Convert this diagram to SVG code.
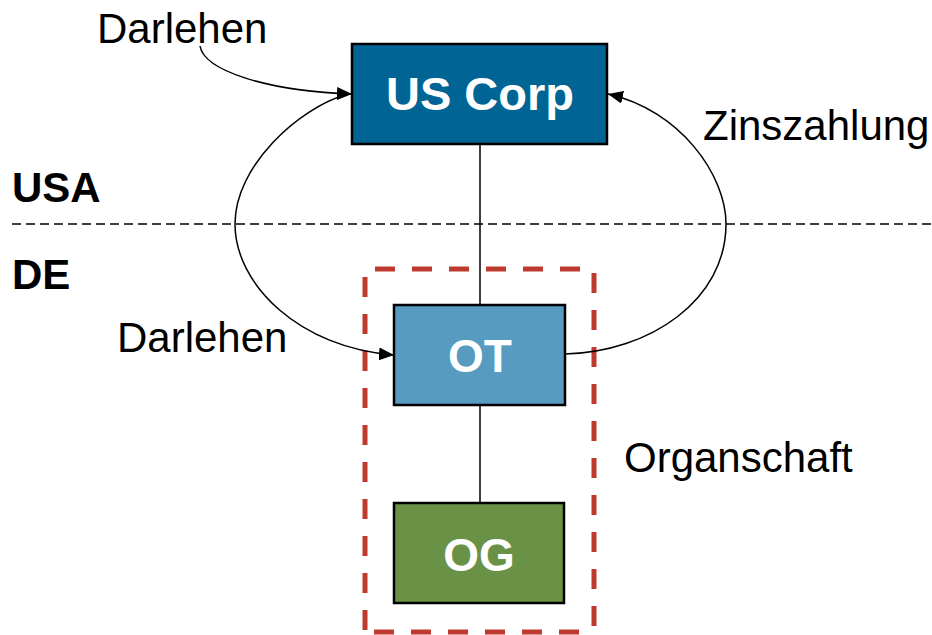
<svg xmlns="http://www.w3.org/2000/svg" width="932" height="635" viewBox="0 0 932 635">
  <style>
    .box { stroke: #000; stroke-width: 2.5; }
    .box-label { font-family: "Liberation Sans", Arial, sans-serif; font-weight: bold; font-size: 46px; fill: #fff; text-anchor: middle; }
    .label { font-family: "Liberation Sans", Arial, sans-serif; font-size: 42px; fill: #000; }
    .region { font-family: "Liberation Sans", Arial, sans-serif; font-size: 42px; font-weight: bold; fill: #000; }
    .wire { fill: none; stroke: #000; stroke-width: 1.5; }
    .border { stroke: #000; stroke-width: 1.5; stroke-dasharray: 9 5; }
    .group-edge { stroke: #BE3A2E; stroke-width: 5; stroke-dasharray: 20 17; fill: none; }
  </style>
  <defs>
    <marker id="arrow" markerUnits="userSpaceOnUse" markerWidth="16" markerHeight="13" refX="15" refY="6.5" orient="auto">
      <path d="M0,0 L15,6.5 L0,13 z" fill="#000"/>
    </marker>
  </defs>

  <rect width="932" height="635" fill="#fff"/>

  <!-- country border -->
  <g id="border">
    <line class="border" x1="12" y1="224" x2="932" y2="224"/>
    <text class="region" x="12" y="202">USA</text>
    <text class="region" x="12" y="289">DE</text>
  </g>

  <!-- tax group (Organschaft) outline -->
  <g id="organschaft">
    <line class="group-edge" x1="375" y1="269" x2="584" y2="269"/>
    <line class="group-edge" x1="594" y1="273" x2="594" y2="632"/>
    <line class="group-edge" x1="365" y1="277" x2="365" y2="633"/>
    <line class="group-edge" x1="374" y1="632" x2="584" y2="632"/>
    <text class="label" x="624" y="472">Organschaft</text>
  </g>

  <!-- connectors -->
  <g id="connectors">
    <line class="wire" x1="480" y1="144" x2="480" y2="305"/>
    <line class="wire" x1="480" y1="405" x2="480" y2="503"/>
    <path class="wire" d="M200,46 C204,70 265,91 352,94" marker-end="url(#arrow)"/>
    <path class="wire" d="M345,95 C300,108 235,165 235,224 C235,285 300,348 394,355" marker-end="url(#arrow)"/>
    <path class="wire" d="M565,354 C650,352 726,300 726,224 C726,175 680,110 608,94" marker-end="url(#arrow)"/>
  </g>

  <!-- flow labels -->
  <g id="flow-labels">
    <text class="label" x="97" y="43">Darlehen</text>
    <text class="label" x="117" y="352">Darlehen</text>
    <text class="label" x="703" y="140">Zinszahlung</text>
  </g>

  <g id="us-corp">
    <rect class="box" x="352" y="44" width="255" height="100" fill="#006595"/>
    <text class="box-label" x="480" y="110" style="font-size:47px">US Corp</text>
  </g>

  <g id="ot">
    <rect class="box" x="394" y="305" width="171" height="100" fill="#579BC0"/>
    <text class="box-label" x="480" y="372">OT</text>
  </g>

  <g id="og">
    <rect class="box" x="394" y="503" width="170" height="100" fill="#699246"/>
    <text class="box-label" x="479" y="571">OG</text>
  </g>
</svg>
